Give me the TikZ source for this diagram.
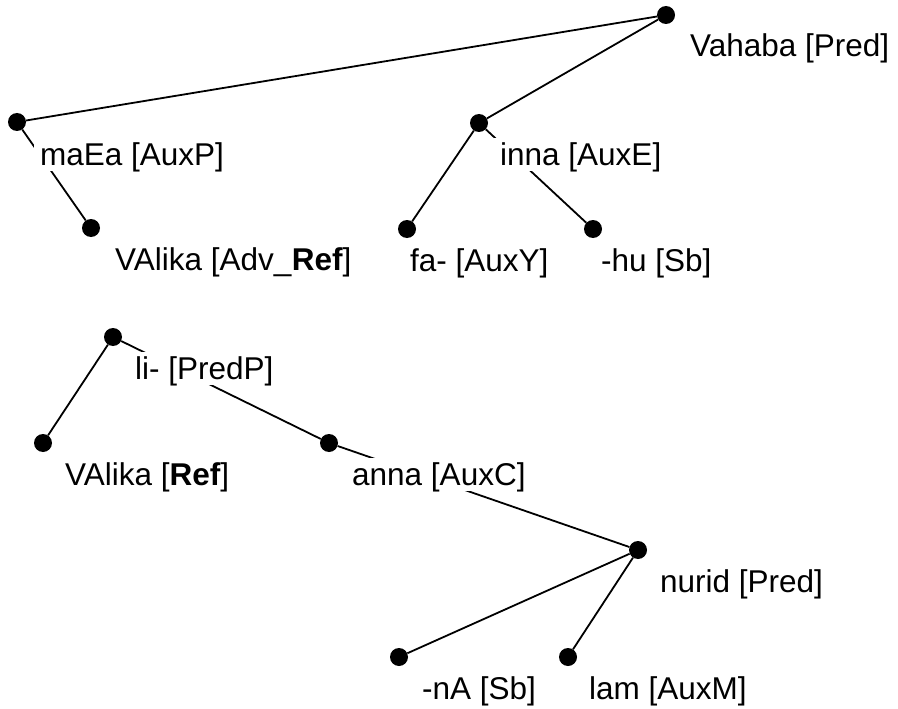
\documentclass[tikz,border=0pt]{standalone}
\usepackage{fontspec}
\setmainfont{Liberation Sans}
\begin{document}
\begin{tikzpicture}[x=1pt,y=-1pt,
  dot/.style={circle,fill=black,inner sep=0pt,minimum size=18pt},
  edge/.style={line width=1.8pt},
  lab/.style={anchor=base west,fill=white,inner xsep=6pt,inner ysep=0pt,
    text height=27pt,text depth=6pt,
    font=\fontsize{31.5}{36}\selectfont}]
\useasboundingbox (0,0) rectangle (898,709);
% dots
\node[dot] (vahaba) at (666,15) {};
\node[dot] (maea) at (17,122) {};
\node[dot] (valika1) at (91,228) {};
\node[dot] (inna) at (479,123) {};
\node[dot] (fa) at (407,229) {};
\node[dot] (hu) at (593,229) {};
\node[dot] (li) at (113,337) {};
\node[dot] (valika2) at (43,443) {};
\node[dot] (anna) at (329,443) {};
\node[dot] (nurid) at (638,550) {};
\node[dot] (na) at (399,657) {};
\node[dot] (lam) at (568,657) {};
% edges
\draw[edge] (vahaba) -- (maea);
\draw[edge] (vahaba) -- (inna);
\draw[edge] (maea) -- (valika1);
\draw[edge] (inna) -- (fa);
\draw[edge] (inna) -- (hu);
\draw[edge] (li) -- (valika2);
\draw[edge] (li) -- (anna);
\draw[edge] (anna) -- (nurid);
\draw[edge] (nurid) -- (na);
\draw[edge] (nurid) -- (lam);
% labels
\node[lab] (lvahaba) at (684,57) {Vahaba [Pred]};
\node[lab] (lmaea) at (34,165) {maEa [AuxP]};
\node[lab] (lvalika1) at (109,270) {VAlika [Adv\_\textbf{Ref}]};
\node[lab] (linna) at (494,165) {inna [AuxE]};
\node[lab] (lfa) at (404,271) {fa- [AuxY]};
\node[lab] (lhu) at (595,271) {-hu [Sb]};
\node[lab] (lli) at (129,379) {li- [PredP]};
\node[lab] (lvalika2) at (59,485) {VAlika [\textbf{Ref}]};
\node[lab] (lanna) at (346,485) {anna [AuxC]};
\node[lab] (lnurid) at (654,592) {nurid [Pred]};
\node[lab] (lna) at (416,699) {-nA [Sb]};
\node[lab] (llam) at (583,699) {lam [AuxM]};
\end{tikzpicture}
\end{document}
